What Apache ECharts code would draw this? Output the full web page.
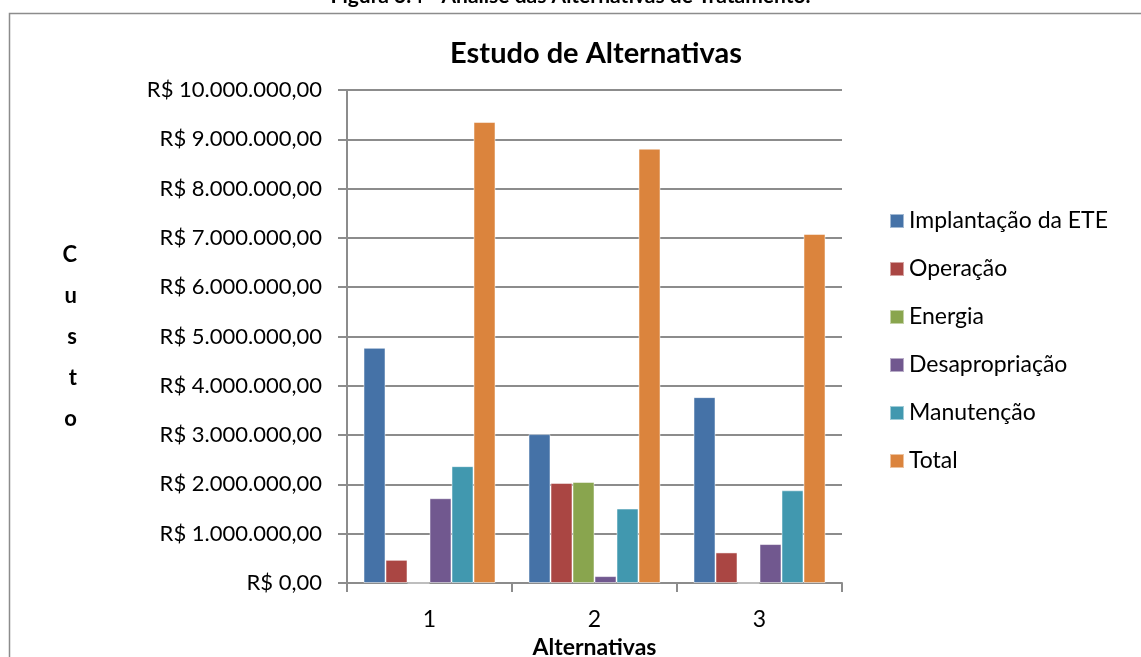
<!DOCTYPE html>
<html>
<head>
<meta charset="utf-8">
<script src="https://cdn.jsdelivr.net/npm/echarts@6/dist/echarts.min.js"></script>
<style>
  html, body { margin: 0; padding: 0; background: #fff; }
  #chart { width: 1141px; height: 657px; }
</style>
</head>
<body>
<div id="chart"></div>
<script>
'use strict';

// dados
const alternativas = ['1', '2', '3'];
const seriesNames = ['Implantação da ETE', 'Operação', 'Energia', 'Desapropriação', 'Manutenção', 'Total'];
const implantacao = [4770000, 3020000, 3770000];
const operacao = [470000, 2030000, 620000];
const energia = [0, 2050000, 0];
const desapropriacao = [1720000, 140000, 790000];
const manutencao = [2370000, 1510000, 1880000];
const total = [9350000, 8810000, 7080000];
const colors = ['#4572A7', '#AA4643', '#89A54E', '#71588F', '#4198AF', '#DB843D'];

const font = 'Lato, "Open Sans", sans-serif';

// formato R$ 1.000.000,00
function brl(v) {
    let s = Math.round(v).toString().replace(/\B(?=(\d{3})+(?!\d))/g, '.');
    return 'R$ ' + s + ',00';
}

const values = [implantacao, operacao, energia, desapropriacao, manutencao, total];

let mCharts = echarts.init(document.getElementById('chart'));

let option = {
    animation: false,
    color: colors,
    title: {
        text: 'Estudo de Alternativas',
        left: 591,
        textAlign: 'center',
        top: 34,
        textStyle: { fontFamily: font, fontSize: 29, fontWeight: 'bold', color: '#000' }
    },
    graphic: [
        {
            type: 'rect',
            shape: { x: 9.5, y: 13.5, width: 1200, height: 700 },
            style: { fill: 'none', stroke: '#8c8c8c', lineWidth: 1.5 }
        },
        {
            type: 'text',
            left: 'center',
            top: -14,
            style: {
                text: 'Figura 3.4 - Análise das Alternativas de Tratamento.',
                fontFamily: font, fontSize: 21, fontWeight: 'bold', fill: '#000'
            }
        }
    ],
    legend: {
        orient: 'vertical',
        left: 884,
        top: 204,
        itemWidth: 14,
        itemHeight: 14,
        itemGap: 24,
        icon: 'rect',
        textStyle: { fontFamily: font, fontSize: 23, lineHeight: 24, color: '#000' },
        data: seriesNames
    },
    grid: { left: 347, right: 299, top: 90, bottom: 74, outerBoundsMode: 'none' },
    xAxis: {
        type: 'category',
        data: alternativas,
        name: 'Alternativas',
        nameLocation: 'middle',
        nameGap: 50,
        nameTextStyle: { fontFamily: font, fontSize: 23, fontWeight: 'bold', color: '#000' },
        axisLine: { lineStyle: { color: '#8c8c8c', width: 2 } },
        axisTick: { show: true, length: 9, lineStyle: { color: '#8c8c8c', width: 2 } },
        axisLabel: { fontFamily: font, fontSize: 23, color: '#000', margin: 25 }
    },
    yAxis: {
        type: 'value',
        min: 0,
        max: 10000000,
        interval: 1000000,
        name: 'C\nu\ns\nt\no',
        nameLocation: 'middle',
        nameRotate: 0,
        nameGap: 270,
        nameTextStyle: { fontFamily: font, fontSize: 22, fontWeight: 'bold', color: '#000', lineHeight: 41 },
        axisLine: { show: true, lineStyle: { color: '#8c8c8c', width: 2 } },
        axisTick: { show: true, length: 9, lineStyle: { color: '#8c8c8c', width: 2 } },
        splitLine: { lineStyle: { color: '#8c8c8c', width: 2 } },
        axisLabel: { fontFamily: font, fontSize: 22, color: '#000', margin: 25, formatter: brl }
    },
    series: seriesNames.map((name, i) => ({
        name: name,
        type: 'bar',
        data: values[i],
        barGap: '0%',
        barCategoryGap: '20%',
        itemStyle: { borderColor: 'rgba(255,255,255,0.5)', borderWidth: 1 }
    }))
};

mCharts.setOption(option);
</script>
</body>
</html>
